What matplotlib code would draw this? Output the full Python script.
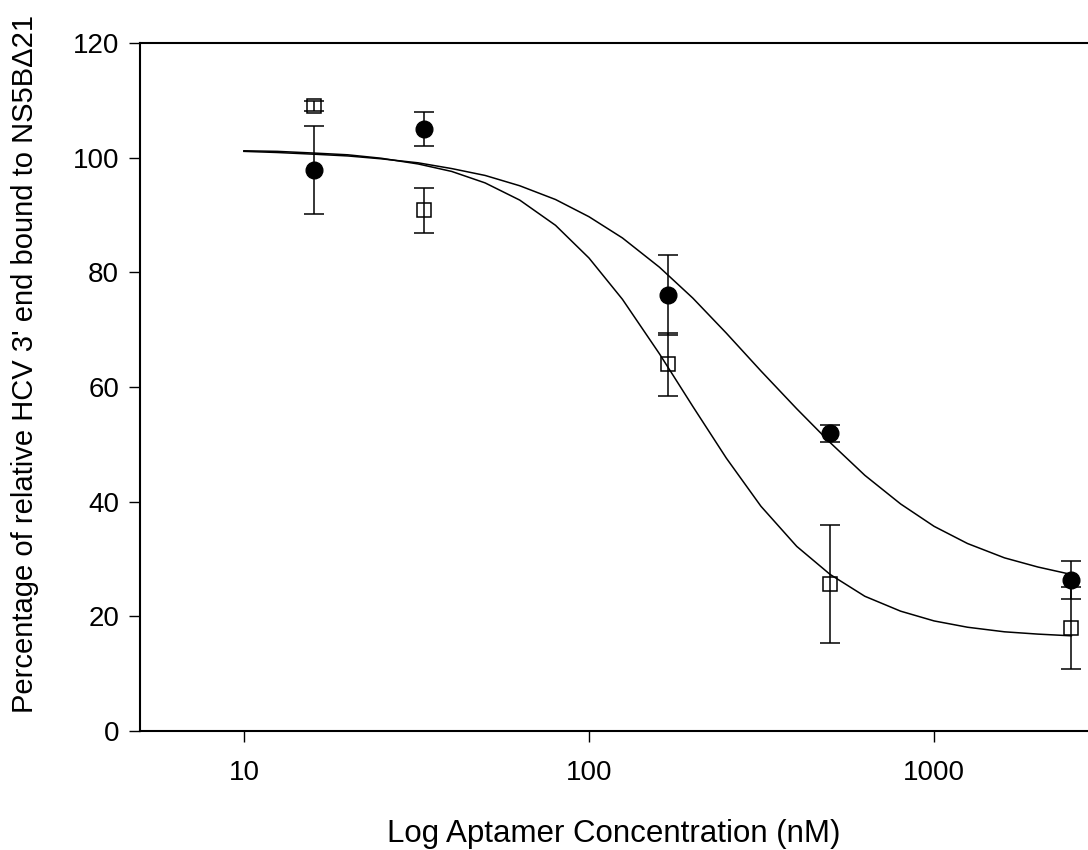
import matplotlib
matplotlib.use("Agg")
import matplotlib.pyplot as plt

plt.rcParams["font.family"] = ["Liberation Sans", "DejaVu Sans"]

# measured points (nM, % bound, sd)
conc = [16, 33.3, 170, 500, 2500]
filled_y = [97.85, 105.0, 76.05, 51.9, 26.3]
filled_err = [7.75, 2.95, 6.95, 1.45, 3.3]
open_y = [109.0, 90.8, 64.0, 25.6, 17.9]
open_err = [0.85, 3.9, 5.5, 10.3, 7.15]

# fitted curves
fit_x = [10, 12.5, 16, 20, 25, 32, 40, 50, 63, 80, 100, 125, 160, 200,
         250, 315, 400, 500, 630, 800, 1000, 1250, 1600, 2000, 2500]
fit_filled = [101.1, 100.9, 100.6, 100.3, 99.8, 99.1, 98.1, 96.9, 95.1,
              92.7, 89.7, 86.0, 80.9, 75.5, 69.4, 62.8, 56.2, 50.3, 44.6,
              39.6, 35.7, 32.7, 30.2, 28.6, 27.3]
fit_open = [101.2, 101.1, 100.8, 100.5, 99.9, 98.9, 97.6, 95.6, 92.6,
            88.2, 82.5, 75.3, 65.8, 56.6, 47.6, 39.2, 32.2, 27.3, 23.5,
            20.9, 19.2, 18.1, 17.3, 16.9, 16.6]

xticks = [10, 100, 1000]
yticks = [0, 20, 40, 60, 80, 100, 120]

W, H = 1088, 850
fig = plt.figure(figsize=(W / 100, H / 100), dpi=100)
ax = fig.add_axes([140 / W, (H - 731) / H, (W - 140) / W, (731 - 43) / H])

ax.plot(fit_x, fit_filled, color="black", lw=1.1, zorder=2)
ax.plot(fit_x, fit_open, color="black", lw=1.1, zorder=2)

ax.errorbar(conc, filled_y, yerr=filled_err, fmt="o", ms=12,
            color="black", mfc="black", mec="black",
            elinewidth=1.1, capsize=7.5, capthick=1.1, zorder=3)
ax.errorbar(conc, open_y, yerr=open_err, fmt="s", ms=9.5,
            color="black", mfc="none", mec="black", mew=1.1,
            elinewidth=1.1, capsize=7.5, capthick=1.1, zorder=3)

ax.set_xscale("log")
ax.set_xlim(5, 2793)
ax.set_ylim(0, 120)
ax.set_xticks(xticks)
ax.set_xticklabels([str(t) for t in xticks])
ax.minorticks_off()
ax.set_yticks(yticks)

for side in ["left", "bottom", "top"]:
    ax.spines[side].set_linewidth(1.5)
ax.spines["right"].set_visible(False)

ax.tick_params(axis="both", direction="out", length=8, width=1.0,
               labelsize=20, colors="black")
ax.tick_params(axis="x", pad=13)
ax.tick_params(axis="y", pad=7)

fig.text(0.5 * (140 + W) / W, (H - 842) / H,
         "Log Aptamer Concentration (nM)",
         ha="center", va="baseline", fontsize=22.5)
fig.text(25 / W, (H - 364) / H,
         "Percentage of relative HCV 3' end bound to NS5B\u039421",
         ha="center", va="center", rotation=90, fontsize=21)

fig.savefig("out.png", dpi=100)
